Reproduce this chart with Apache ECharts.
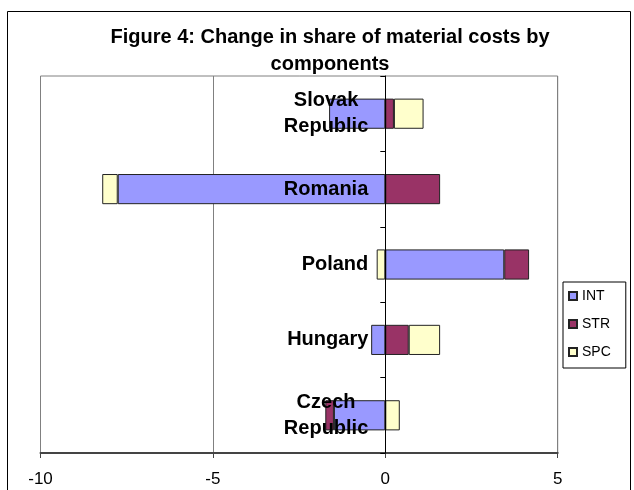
<!DOCTYPE html>
<html>
<head>
<meta charset="utf-8">
<script src="https://cdn.jsdelivr.net/npm/echarts@6/dist/echarts.min.js"></script>
<style>
html,body{margin:0;padding:0;background:#fff;}
#chart{width:634px;height:490px;}
</style>
</head>
<body>
<div id="chart"></div>
<script>
const categories = ['Czech\nRepublic', 'Hungary', 'Poland', 'Romania', 'Slovak\nRepublic'];
const seriesNames = ['INT', 'STR', 'SPC'];
const intValues = [-1.49, -0.41, 3.45, -7.76, -1.63];
const strValues = [-0.25, 0.68, 0.72, 1.59, 0.25];
const spcValues = [0.42, 0.91, -0.25, -0.45, 0.86];
const xTicks = { min: -10, max: 5, interval: 5 };
const titleLines = ['Figure 4: Change in share of material costs by', 'components'];

const FONT = '"Liberation Sans", Arial, sans-serif';
const colors = ['#9999FF', '#993366', '#FFFFCC'];
const valueSets = [intValues, strValues, spcValues];

const gridLeft = 40.5, gridRight = 76.3;
const gridWidth = 634 - gridLeft - gridRight;
const zeroOffset = -gridWidth * (0 - xTicks.min) / (xTicks.max - xTicks.min);

const chart = echarts.init(document.getElementById('chart'), null, { renderer: 'canvas' });
chart.setOption({
  animation: false,
  backgroundColor: '#ffffff',
  textStyle: { fontFamily: FONT },
  graphic: [
    { type: 'rect', shape: { x: 7.5, y: 11.5, width: 623, height: 500 }, style: { fill: 'none', stroke: '#000', lineWidth: 1 }, z: 0 },
    { type: 'text', x: 330, y: 37, style: { text: titleLines[0], font: 'bold 20px ' + FONT, fill: '#000', align: 'center', verticalAlign: 'middle' } },
    { type: 'text', x: 330, y: 64, style: { text: titleLines[1], font: 'bold 20px ' + FONT, fill: '#000', align: 'center', verticalAlign: 'middle' } }
  ],
  grid: { left: gridLeft, right: gridRight, top: 76, bottom: 37, containLabel: false, outerBoundsMode: 'none', show: true, borderColor: '#808080', borderWidth: 1, backgroundColor: 'transparent' },
  legend: {
    orient: 'vertical', left: 563, top: 282,
    padding: [7, 15, 9, 5],
    itemWidth: 8, itemHeight: 8, itemGap: 14,
    borderColor: '#000', borderWidth: 1,
    icon: 'rect',
    data: seriesNames,
    textStyle: { fontSize: 14, color: '#000', fontFamily: FONT }
  },
  xAxis: {
    type: 'value', min: xTicks.min, max: xTicks.max, interval: xTicks.interval,
    axisLine: { show: true, onZero: false, lineStyle: { color: '#444', width: 2 } },
    axisTick: { show: true, length: 5, lineStyle: { color: '#444' } },
    splitLine: { show: true, lineStyle: { color: '#808080', width: 1 } },
    axisLabel: { fontSize: 17, color: '#000', margin: 18, fontFamily: FONT }
  },
  yAxis: {
    type: 'category', data: categories, z: 10,
    position: 'left', offset: zeroOffset,
    axisLine: { show: true, onZero: false, lineStyle: { color: '#000', width: 1 } },
    axisTick: { show: true, length: 5, lineStyle: { color: '#000' } },
    splitLine: { show: false },
    axisLabel: {
      margin: 17,
      formatter: v => v.split('\n').map(s => '{a|' + s + '}').join('\n'),
      rich: { a: { fontSize: 20, fontWeight: 'bold', color: '#000', align: 'center', lineHeight: 26, fontFamily: FONT } }
    }
  },
  series: seriesNames.map((name, i) => ({
    name: name, type: 'bar', stack: 'total',
    data: valueSets[i],
    barCategoryGap: '60%',
    itemStyle: { color: colors[i], borderColor: '#222', borderWidth: 1 },
    emphasis: { disabled: true }
  }))
});
</script>
</body>
</html>
